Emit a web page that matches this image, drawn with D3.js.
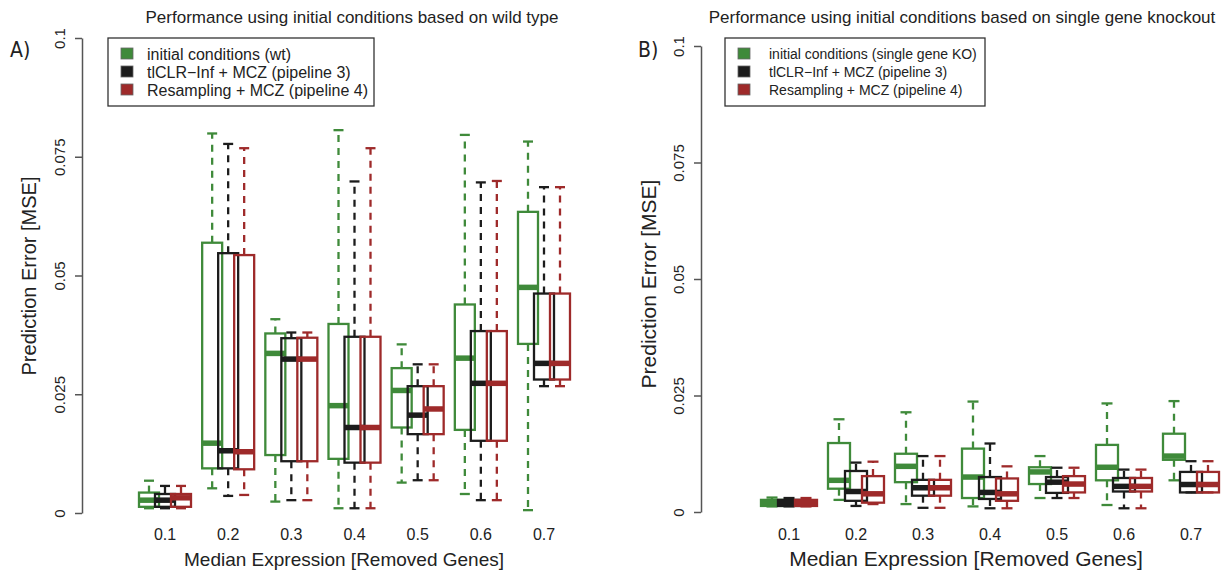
<!DOCTYPE html>
<html>
<head>
<meta charset="utf-8">
<script src="https://cdn.jsdelivr.net/npm/d3@7"></script>
<style>
  body { margin: 0; background: #fff; }
  svg { font-family: "Liberation Sans", Arial, sans-serif; }
</style>
</head>
<body>
<svg id="chart" width="1226" height="571"></svg>
<script>
// categories and tick labels
const groups = ["0.1", "0.2", "0.3", "0.4", "0.5", "0.6", "0.7"];
const yTicks = [0, 0.025, 0.05, 0.075, 0.1];
const yTickLabels = ["0", "0.025", "0.05", "0.075", "0.1"];

// five-number summaries per group: [lower whisker, Q1, median, Q3, upper whisker]
// panel A, wild type
const wtInitial = [
  [0.0010, 0.0013, 0.0027, 0.0043, 0.0068],
  [0.0052, 0.0094, 0.0147, 0.0569, 0.0799],
  [0.0024, 0.0122, 0.0336, 0.0378, 0.0408],
  [0.0010, 0.0114, 0.0226, 0.0398, 0.0806],
  [0.0064, 0.0180, 0.0258, 0.0305, 0.0355],
  [0.0040, 0.0175, 0.0326, 0.0439, 0.0796],
  [0.0006, 0.0356, 0.0475, 0.0634, 0.0782]
];
const wtPipeline3 = [
  [0.0010, 0.0013, 0.0027, 0.0040, 0.0057],
  [0.0036, 0.0094, 0.0131, 0.0547, 0.0777],
  [0.0027, 0.0109, 0.0324, 0.0368, 0.0380],
  [0.0010, 0.0106, 0.0180, 0.0371, 0.0698],
  [0.0069, 0.0166, 0.0206, 0.0267, 0.0313],
  [0.0027, 0.0152, 0.0273, 0.0383, 0.0696],
  [0.0267, 0.0281, 0.0315, 0.0462, 0.0686]
];
const wtPipeline4 = [
  [0.0010, 0.0013, 0.0032, 0.0040, 0.0057],
  [0.0038, 0.0092, 0.0129, 0.0543, 0.0768],
  [0.0027, 0.0109, 0.0324, 0.0369, 0.0380],
  [0.0010, 0.0106, 0.0180, 0.0371, 0.0768],
  [0.0069, 0.0166, 0.0219, 0.0267, 0.0313],
  [0.0027, 0.0152, 0.0273, 0.0383, 0.0699],
  [0.0267, 0.0281, 0.0315, 0.0462, 0.0686]
];
// panel B, single gene knockout
const koInitial = [
  [0.0012, 0.0013, 0.0020, 0.0026, 0.0031],
  [0.0026, 0.0050, 0.0068, 0.0148, 0.0199],
  [0.0017, 0.0064, 0.0098, 0.0125, 0.0214],
  [0.0012, 0.0030, 0.0075, 0.0136, 0.0237],
  [0.0030, 0.0060, 0.0086, 0.0096, 0.0120],
  [0.0015, 0.0068, 0.0096, 0.0144, 0.0233],
  [0.0068, 0.0112, 0.0120, 0.0168, 0.0238]
];
const koPipeline3 = [
  [0.0012, 0.0013, 0.0020, 0.0026, 0.0030],
  [0.0013, 0.0024, 0.0044, 0.0088, 0.0106],
  [0.0009, 0.0035, 0.0052, 0.0069, 0.0120],
  [0.0008, 0.0028, 0.0042, 0.0075, 0.0147],
  [0.0030, 0.0041, 0.0064, 0.0075, 0.0095],
  [0.0008, 0.0044, 0.0055, 0.0073, 0.0091],
  [0.0042, 0.0042, 0.0059, 0.0086, 0.0109]
];
const koPipeline4 = [
  [0.0012, 0.0013, 0.0020, 0.0026, 0.0030],
  [0.0017, 0.0020, 0.0039, 0.0077, 0.0108],
  [0.0009, 0.0035, 0.0052, 0.0069, 0.0120],
  [0.0008, 0.0024, 0.0039, 0.0072, 0.0098],
  [0.0030, 0.0042, 0.0060, 0.0077, 0.0095],
  [0.0008, 0.0044, 0.0055, 0.0073, 0.0091],
  [0.0042, 0.0042, 0.0059, 0.0086, 0.0109]
];

const colors = ["#3f8a3a", "#1c1c1c", "#9e2a2a"];

const svg = d3.select("#chart");

function drawPanel(p) {
  const g = svg.append("g");
  const x = d3.scalePoint().domain(groups).range(p.xRange);
  const y = d3.scaleLinear().domain([0, 0.1]).range(p.yRange);

  // title
  g.append("text")
    .attr("x", p.titleX).attr("y", 23)
    .attr("text-anchor", "middle")
    .attr("font-size", "17px").attr("fill", "#222")
    .text(p.title);

  // panel letter
  g.append("text")
    .attr("x", p.letterX).attr("y", 57)
    .attr("font-size", "21px").attr("fill", "#222")
    .attr("font-family", "'DejaVu Sans Condensed', sans-serif")
    .text(p.letter);

  // y axis (R style: line only from first to last tick)
  const yAxis = g.append("g")
    .attr("transform", "translate(" + p.axisX + ",0)")
    .call(d3.axisLeft(y).tickValues(yTicks)
      .tickFormat((d, i) => yTickLabels[i]).tickSize(7).tickSizeOuter(0));
  yAxis.select(".domain").attr("stroke", "#555").attr("stroke-width", 1.5);
  yAxis.selectAll(".tick line").attr("stroke", "#555").attr("stroke-width", 1.5);
  yAxis.selectAll(".tick text")
    .attr("font-size", "15px").attr("fill", "#222")
    .attr("transform", "rotate(-90)")
    .attr("x", 0).attr("y", -17)
    .attr("dy", 0)
    .attr("text-anchor", "middle");

  g.append("text")
    .attr("transform", "translate(" + p.yTitleX + "," + p.yTitleY + ") rotate(-90)")
    .attr("text-anchor", "middle")
    .attr("font-size", p.yTitleSize).attr("fill", "#222")
    .text("Prediction Error [MSE]");

  // x tick labels only, no axis line
  g.selectAll(".xlab").data(groups).join("text")
    .attr("x", d => x(d)).attr("y", 540)
    .attr("text-anchor", "middle")
    .attr("font-size", "16px").attr("fill", "#222")
    .text(d => d);

  g.append("text")
    .attr("x", p.xTitleX).attr("y", 566)
    .attr("text-anchor", "middle")
    .attr("font-size", p.xTitleSize).attr("fill", "#222")
    .text("Median Expression [Removed Genes]");

  // boxes
  const bw = p.boxWidth;
  p.series.forEach((s, si) => {
    const col = colors[si];
    const off = (si - 1) * p.offset;
    const sg = g.append("g");
    s.forEach((v, gi) => {
      const cx = x(groups[gi]) + off;
      const [lo, q1, med, q3, hi] = v;
      // whiskers
      sg.append("line")
        .attr("x1", cx).attr("x2", cx)
        .attr("y1", y(q3)).attr("y2", y(hi))
        .attr("stroke", col).attr("stroke-width", 2.3)
        .attr("stroke-dasharray", "7,6");
      sg.append("line")
        .attr("x1", cx).attr("x2", cx)
        .attr("y1", y(q1)).attr("y2", y(lo))
        .attr("stroke", col).attr("stroke-width", 2.3)
        .attr("stroke-dasharray", "7,6");
      // staples
      [lo, hi].forEach(w => {
        sg.append("line")
          .attr("x1", cx - bw / 4).attr("x2", cx + bw / 4)
          .attr("y1", y(w)).attr("y2", y(w))
          .attr("stroke", col).attr("stroke-width", 2.3);
      });
      // box
      sg.append("rect")
        .attr("x", cx - bw / 2).attr("width", bw)
        .attr("y", y(q3)).attr("height", Math.max(y(q1) - y(q3), 0.5))
        .attr("fill", "none")
        .attr("stroke", col).attr("stroke-width", 2.3);
      // median
      sg.append("line")
        .attr("x1", cx - bw / 2).attr("x2", cx + bw / 2)
        .attr("y1", y(med)).attr("y2", y(med))
        .attr("stroke", col).attr("stroke-width", 5.5);
    });
  });

  // legend
  const lg = g.append("g");
  lg.append("rect")
    .attr("x", p.legend[0]).attr("y", 38)
    .attr("width", p.legend[1] - p.legend[0]).attr("height", 68)
    .attr("fill", "#fff").attr("stroke", "#333").attr("stroke-width", 1.3);
  p.legendLabels.forEach((t, i) => {
    const ly = 54 + i * 18;
    lg.append("rect")
      .attr("x", p.legend[0] + 13).attr("y", ly - 6)
      .attr("width", 12).attr("height", 11)
      .attr("fill", colors[i]).attr("stroke", "#666").attr("stroke-width", 0.8);
    lg.append("text")
      .attr("x", p.legend[0] + p.legendTextOffset).attr("y", ly + p.legendFont * 0.36)
      .attr("font-size", p.legendFont + "px").attr("fill", "#222")
      .text(t);
  });
}

drawPanel({
  title: "Performance using initial conditions based on wild type",
  titleX: 352,
  letter: "A)", letterX: 10,
  axisX: 82, yRange: [513, 38],
  xRange: [165, 544],
  yTitleX: 36, yTitleY: 276, yTitleSize: "20px",
  xTitleX: 344, xTitleSize: "19px",
  boxWidth: 20, offset: 16,
  series: [wtInitial, wtPipeline3, wtPipeline4],
  legend: [108, 374], legendFont: 16, legendTextOffset: 39,
  legendLabels: ["initial conditions (wt)", "tlCLR\u2212Inf + MCZ (pipeline 3)", "Resampling + MCZ (pipeline 4)"]
});

drawPanel({
  title: "Performance using initial conditions based on single gene knockout",
  titleX: 962,
  letter: "B)", letterX: 638,
  axisX: 701, yRange: [512, 46],
  xRange: [789, 1191],
  yTitleX: 656, yTitleY: 284, yTitleSize: "21px",
  xTitleX: 966, xTitleSize: "21px",
  boxWidth: 22, offset: 17,
  series: [koInitial, koPipeline3, koPipeline4],
  legend: [725, 985], legendFont: 14, legendTextOffset: 44,
  legendLabels: ["initial conditions (single gene KO)", "tlCLR\u2212Inf + MCZ (pipeline 3)", "Resampling + MCZ (pipeline 4)"]
});
</script>
</body>
</html>
